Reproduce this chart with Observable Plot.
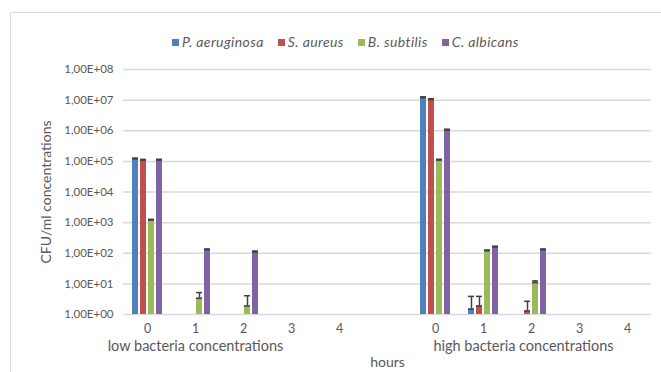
<!DOCTYPE html>
<html>
<head>
<meta charset="utf-8">
<script src="https://cdn.jsdelivr.net/npm/d3@7"></script>
<script src="https://cdn.jsdelivr.net/npm/@observablehq/plot@0.6"></script>
<style>
  html, body { margin: 0; padding: 0; background: #fff; }
  #wrap { position: relative; width: 661px; height: 372px; overflow: hidden; font-family: Lato, "Open Sans", sans-serif; }
  #border { position: absolute; left: 10px; top: 12px; right: -2px; bottom: -2px; border-top: 1px solid #d9d9d9; border-left: 1px solid #d9d9d9; pointer-events: none; }
  #legend { height: 55px; box-sizing: border-box; padding-top: 29px; padding-left: 172px; display: flex; align-items: center; font-size: 14px; letter-spacing: 0.4px; font-style: italic; color: #595959; line-height: 14px; }
  #legend .item { display: flex; align-items: center; margin-right: 14px; }
  #legend .sw { width: 7px; height: 7px; margin-right: 3px; }
  svg { display: block; }
  svg [aria-label="y-axis label"] { font-size: 14px; }
  svg [aria-label="fx-axis label"] { font-size: 14px; }
  svg [aria-label="fx-axis tick label"] { font-size: 12.5px; }
  svg [aria-label="y-axis tick label"] { font-size: 11.5px; }
</style>
</head>
<body>
<div id="wrap">
  <div id="border"></div>
  <div id="legend"></div>
  <div id="chart"></div>
</div>
<script>
const categories = ["L0","L1","L2","L3","L4","gap","H0","H1","H2","H3","H4"];
const tickLabels = ["0","1","2","3","4","","0","1","2","3","4"];
const series = ["P. aeruginosa","S. aureus","B. subtilis","C. albicans"];
const colors = ["#4F81BD","#C0504D","#9BBB59","#8064A2"];

const pAeruginosa = [1.2e5, null, null, null, null, null, 1.2e7, 1.5, null, null, null];
const sAureus     = [1.1e5, null, null, null, null, null, 1.05e7, 1.9, 1.3, null, null];
const bSubtilis   = [1.2e3, 3.4, 1.9, null, null, null, 1.1e5, 1.2e2, 11, null, null];
const cAlbicans   = [1.1e5, 1.3e2, 1.1e2, null, null, null, 1.05e6, 1.6e2, 1.3e2, null, null];

const pAeruginosaErr = [8e3, null, null, null, null, null, 8e5, 2.4, null, null, null];
const sAureusErr     = [6e3, null, null, null, null, null, 6e5, 2.0, 1.4, null, null];
const bSubtilisErr   = [80, 1.8, 2.2, null, null, null, 7e3, 8, 1.5, null, null];
const cAlbicansErr   = [7e3, 8, 8, null, null, null, 7e4, 10, 8, null, null];

const yTicks = [1, 10, 1e2, 1e3, 1e4, 1e5, 1e6, 1e7, 1e8];
const lowLabel = [{at: "L1", label: "low bacteria concentrations"}];
const highLabel = [{at: "H2", label: "high bacteria concentrations"}];

const valuesBySeries = [pAeruginosa, sAureus, bSubtilis, cAlbicans];
const errorsBySeries = [pAeruginosaErr, sAureusErr, bSubtilisErr, cAlbicansErr];

const data = [];
categories.forEach((cat, i) => {
  series.forEach((s, j) => {
    const v = valuesBySeries[j][i];
    const e = errorsBySeries[j][i];
    data.push({cat, series: s, value: v, upper: v == null ? null : v + (e || 0)});
  });
});

// legend
const legend = document.getElementById("legend");
series.forEach((s, j) => {
  const item = document.createElement("div");
  item.className = "item";
  const sw = document.createElement("div");
  sw.className = "sw";
  sw.style.background = colors[j];
  const t = document.createElement("span");
  t.textContent = s;
  item.appendChild(sw);
  item.appendChild(t);
  legend.appendChild(item);
});

const fmt = d => "1,00E+" + String(Math.round(Math.log10(d))).padStart(2, "0");
const catLabel = d => tickLabels[categories.indexOf(d)];

const chart = Plot.plot({
  width: 661,
  height: 317,
  marginTop: 14,
  marginBottom: 58,
  marginLeft: 122,
  marginRight: 10,
  style: {fontFamily: "Lato, 'Open Sans', sans-serif", fontSize: "11px", color: "#595959", background: "transparent"},
  fx: {domain: categories, padding: 0, tickFormat: catLabel, tickSize: 0, tickPadding: 10, label: "hours", labelAnchor: "center", labelOffset: 52},
  x: {domain: series, axis: null, paddingInner: 0.2, paddingOuter: 0.86},
  y: {type: "log", domain: [1, 1e8], ticks: yTicks, tickFormat: fmt, tickSize: 0, tickPadding: 10, label: "CFU/ml concentrations", labelAnchor: "center", labelOffset: 82, labelArrow: "none"},
  color: {domain: series, range: colors},
  marks: [
    Plot.ruleY(yTicks, {stroke: "#d9d9d9", strokeWidth: 1.5}),
    Plot.barY(data, {fx: "cat", x: "series", y1: 1, y2: "value", fill: "series"}),
    Plot.ruleX(data, {fx: "cat", x: "series", y1: "value", y2: "upper", stroke: "#404040", strokeWidth: 1.5}),
    Plot.tickY(data, {fx: "cat", x: "series", y: "value", stroke: "#404040", strokeWidth: 1.5}),
    Plot.tickY(data, {fx: "cat", x: "series", y: "upper", stroke: "#404040", strokeWidth: 1.5}),
    Plot.text(lowLabel, {fx: "at", text: "label", frameAnchor: "bottom", lineAnchor: "middle", dy: 32, fontSize: 14.5, fill: "#595959"}),
    Plot.text(highLabel, {fx: "at", text: "label", frameAnchor: "bottom", lineAnchor: "middle", dy: 32, dx: -8, fontSize: 14.5, fill: "#595959"})
  ]
});
document.getElementById("chart").appendChild(chart);
</script>
</body>
</html>
